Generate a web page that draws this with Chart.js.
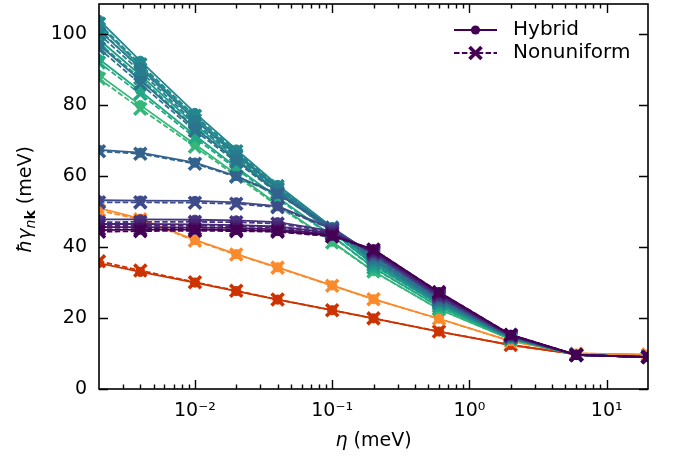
<!DOCTYPE html>
<html>
<head>
<meta charset="utf-8">
<script src="https://cdn.jsdelivr.net/npm/chart.js@4.4.1/dist/chart.umd.min.js"></script>
<style>
  body { margin: 0; background: #fff; }
  canvas { display: block; }
</style>
</head>
<body>
<canvas id="gamma" width="681" height="462"></canvas>
<script>
// broadening eta (meV)
const eta = [0.002, 0.004, 0.01, 0.02, 0.04, 0.1, 0.2, 0.6, 2, 6, 20];

// viridis bands, hybrid grid
const hybA = [44.8, 44.9, 44.9, 44.8, 44.5, 43.2, 39.4, 27.3, 15.3, 9.6, 9.0];
const hybB = [45.6, 45.6, 45.5, 45.4, 45.0, 43.6, 39.0, 27.0, 15.2, 9.6, 9.0];
const hybC = [46.5, 46.5, 46.4, 46.2, 45.8, 44.0, 38.7, 26.6, 15.1, 9.6, 9.0];
const hybD = [47.8, 47.8, 47.7, 47.5, 47.0, 44.5, 38.4, 26.2, 15.0, 9.6, 9.0];
const hybE = [53.2, 53.1, 53.0, 52.6, 51.5, 45.2, 38.0, 25.8, 14.8, 9.6, 9.0];
const hybF = [67.4, 66.6, 63.8, 60.0, 55.0, 45.5, 37.6, 25.5, 14.7, 9.6, 9.0];
const hybG = [97.0, 87.0, 73.5, 64.5, 55.5, 44.8, 37.0, 25.0, 14.6, 9.6, 9.0];
const hybH = [101.0, 90.5, 75.8, 66.0, 56.5, 45.2, 36.6, 24.8, 14.5, 9.6, 9.0];
const hybI = [104.0, 92.5, 77.8, 67.5, 57.5, 45.6, 36.2, 24.5, 14.5, 9.6, 9.0];
const hybJ = [102.5, 91.0, 76.5, 66.5, 56.8, 45.0, 35.6, 24.2, 14.4, 9.6, 9.0];
const hybK = [98.5, 88.5, 74.5, 65.0, 55.8, 44.3, 35.0, 23.8, 14.3, 9.6, 9.0];
const hybL = [93.0, 84.0, 71.5, 62.5, 54.0, 43.2, 34.2, 23.2, 14.2, 9.6, 9.0];
const hybM = [88.5, 80.0, 69.0, 60.5, 52.0, 41.5, 33.2, 22.5, 14.0, 9.6, 9.0];

// same bands, nonuniform grid
const nonA = [44.3, 44.5, 44.6, 44.5, 44.3, 43.0, 39.3, 27.3, 15.3, 9.6, 9.0];
const nonB = [45.0, 45.1, 45.1, 45.0, 44.7, 43.4, 38.9, 27.0, 15.2, 9.6, 9.0];
const nonC = [46.0, 46.0, 46.0, 45.9, 45.5, 43.8, 38.6, 26.6, 15.1, 9.6, 9.0];
const nonD = [47.0, 47.1, 47.1, 47.0, 46.6, 44.3, 38.3, 26.2, 15.0, 9.6, 9.0];
const nonE = [52.6, 52.6, 52.5, 52.2, 51.2, 45.0, 37.9, 25.8, 14.8, 9.6, 9.0];
const nonF = [67.0, 66.3, 63.5, 59.8, 54.8, 45.4, 37.5, 25.5, 14.7, 9.6, 9.0];
const nonG = [96.0, 86.0, 72.8, 64.0, 55.2, 44.7, 36.9, 25.0, 14.6, 9.6, 9.0];
const nonH = [100.0, 89.5, 75.0, 65.5, 56.2, 45.1, 36.5, 24.8, 14.5, 9.6, 9.0];
const nonI = [103.0, 91.5, 77.0, 67.0, 57.2, 45.5, 36.1, 24.5, 14.5, 9.6, 9.0];
const nonJ = [101.5, 90.2, 75.8, 66.0, 56.5, 44.9, 35.5, 24.2, 14.4, 9.6, 9.0];
const nonK = [97.5, 87.6, 73.8, 64.5, 55.5, 44.2, 34.9, 23.8, 14.3, 9.6, 9.0];
const nonL = [92.0, 83.2, 70.8, 62.0, 53.6, 43.0, 34.1, 23.2, 14.2, 9.6, 9.0];
const nonM = [87.5, 79.0, 68.3, 60.0, 51.6, 41.3, 33.1, 22.5, 14.0, 9.6, 9.0];

// the two separate bands
const hybOrange = [51.0, 48.0, 42.0, 38.0, 34.3, 29.2, 25.3, 19.8, 13.5, 10.0, 9.7];
const nonOrange = [50.3, 47.8, 41.8, 37.9, 34.2, 29.1, 25.3, 19.8, 13.5, 10.0, 9.7];
const hybRed = [35.5, 33.0, 30.0, 27.6, 25.2, 22.2, 19.9, 16.2, 12.4, 9.8, 9.6];
const nonRed = [36.0, 33.4, 30.1, 27.7, 25.2, 22.2, 19.9, 16.2, 12.4, 9.8, 9.6];

const hybrid = [hybA, hybB, hybC, hybD, hybE, hybF, hybG, hybH, hybI, hybJ, hybK, hybL, hybM, hybOrange, hybRed];
const nonuniform = [nonA, nonB, nonC, nonD, nonE, nonF, nonG, nonH, nonI, nonJ, nonK, nonL, nonM, nonOrange, nonRed];
const colors = ['#440154', '#471365', '#482475', '#463480', '#3e4a89', '#33638d', '#2c738e', '#297b8e',
                '#24868e', '#21918c', '#1e9c89', '#22a884', '#35b779', '#fb8a2c', '#cc3300'];

const xTicks = [0.01, 0.1, 1, 10];
const xTickLabels = ['10⁻²', '10⁻¹', '10⁰', '10¹'];
const yTicks = [0, 20, 40, 60, 80, 100];

const FONT = "'DejaVu Sans', sans-serif";
const dash = [5.5, 2.4];

function pts(vals) {
  return vals.map((v, i) => ({ x: eta[i], y: v }));
}

let datasets = [];
hybrid.forEach((vals, i) => {
  datasets.push({
    label: 'Hybrid',
    data: pts(vals),
    borderColor: colors[i],
    backgroundColor: colors[i],
    borderWidth: 1.8,
    pointStyle: 'circle',
    pointRadius: 4.6,
    pointHoverRadius: 4.6,
    pointBorderWidth: 1
  });
  datasets.push({
    label: 'Nonuniform',
    data: pts(nonuniform[i]),
    borderColor: colors[i],
    backgroundColor: colors[i],
    borderWidth: 1.8,
    borderDash: dash,
    pointStyle: 'crossRot',
    pointRadius: 8.5,
    pointHoverRadius: 8.5,
    pointBorderWidth: 3.6
  });
});

// frame, inward ticks on all four sides, axis titles and legend
const decor = {
  id: 'decor',
  afterDatasetsDraw(chart) {
    const { ctx, chartArea: a, scales } = chart;
    const x = scales.x, y = scales.y;
    ctx.save();
    ctx.strokeStyle = '#000';
    ctx.lineWidth = 1.4;
    ctx.beginPath();
    xTicks.forEach(v => {
      const px = Math.round(x.getPixelForValue(v)) + 0.5;
      ctx.moveTo(px, a.bottom); ctx.lineTo(px, a.bottom - 9);
      ctx.moveTo(px, a.top); ctx.lineTo(px, a.top + 9);
    });
    for (let d = -3; d <= 1; d++) {
      for (let m = 2; m <= 9; m++) {
        const v = m * Math.pow(10, d);
        if (v <= eta[0] || v >= eta[eta.length - 1]) continue;
        const px = Math.round(x.getPixelForValue(v)) + 0.5;
        ctx.moveTo(px, a.bottom); ctx.lineTo(px, a.bottom - 4.5);
        ctx.moveTo(px, a.top); ctx.lineTo(px, a.top + 4.5);
      }
    }
    yTicks.forEach(v => {
      const py = Math.round(y.getPixelForValue(v)) + 0.5;
      ctx.moveTo(a.left, py); ctx.lineTo(a.left + 9, py);
      ctx.moveTo(a.right, py); ctx.lineTo(a.right - 9, py);
    });
    ctx.stroke();
    ctx.lineWidth = 1.6;
    ctx.strokeRect(a.left, a.top, a.right - a.left, a.bottom - a.top);
    ctx.restore();
  },
  afterDraw(chart) {
    const { ctx, chartArea: a } = chart;
    ctx.save();
    ctx.fillStyle = '#000';
    ctx.textBaseline = 'middle';

    // x title: eta (meV)
    const big = 19;
    ctx.font = `italic ${big}px ${FONT}`;
    const w1 = ctx.measureText('η').width;
    ctx.font = `${big}px ${FONT}`;
    const w2 = ctx.measureText(' (meV)').width;
    let sx = (a.left + a.right) / 2 - (w1 + w2) / 2;
    ctx.textAlign = 'left';
    ctx.font = `italic ${big}px ${FONT}`;
    ctx.fillText('η', sx, 441);
    ctx.font = `${big}px ${FONT}`;
    ctx.fillText(' (meV)', sx + w1, 441);

    // y title: hbar gamma_{n k} (meV), rotated
    const small = 14;
    const parts = [
      { t: 'ħγ', f: `italic ${big}px ${FONT}`, dy: 0 },
      { t: 'n', f: `italic ${small}px ${FONT}`, dy: 5 },
      { t: 'k', f: `bold ${small}px ${FONT}`, dy: 5 },
      { t: ' (meV)', f: `${big}px ${FONT}`, dy: 0 }
    ];
    let total = 0;
    parts.forEach(p => { ctx.font = p.f; p.w = ctx.measureText(p.t).width; total += p.w; });
    ctx.translate(26, (a.top + a.bottom) / 2 + 3);
    ctx.rotate(-Math.PI / 2);
    let cx = -total / 2;
    parts.forEach(p => {
      ctx.font = p.f;
      ctx.fillText(p.t, cx, p.dy);
      cx += p.w;
    });
    ctx.restore();

    // legend
    ctx.save();
    const lc = colors[0];
    const entries = [
      { label: 'Hybrid', y: 30, dashed: false },
      { label: 'Nonuniform', y: 53, dashed: true }
    ];
    entries.forEach(e => {
      ctx.strokeStyle = lc;
      ctx.fillStyle = lc;
      ctx.lineWidth = 1.8;
      ctx.setLineDash(e.dashed ? dash : []);
      ctx.beginPath();
      ctx.moveTo(454, e.y); ctx.lineTo(497, e.y);
      ctx.stroke();
      ctx.setLineDash([]);
      if (e.dashed) {
        ctx.lineWidth = 3.6;
        const r = 6;
        ctx.beginPath();
        ctx.moveTo(475.5 - r, e.y - r); ctx.lineTo(475.5 + r, e.y + r);
        ctx.moveTo(475.5 - r, e.y + r); ctx.lineTo(475.5 + r, e.y - r);
        ctx.stroke();
      } else {
        ctx.beginPath();
        ctx.arc(475.5, e.y, 4.6, 0, Math.PI * 2);
        ctx.fill();
      }
      ctx.fillStyle = '#000';
      ctx.font = `20px ${FONT}`;
      ctx.textAlign = 'left';
      ctx.textBaseline = 'middle';
      ctx.fillText(e.label, 513, e.y);
    });
    ctx.restore();
  }
};

new Chart(document.getElementById('gamma'), {
  type: 'line',
  data: { datasets: datasets },
  options: {
    responsive: false,
    animation: false,
    devicePixelRatio: 1,
    layout: { autoPadding: false, padding: { top: 4, right: 33, left: 0, bottom: 0 } },
    plugins: { legend: { display: false }, tooltip: { enabled: false } },
    elements: { line: { tension: 0, fill: false } },
    scales: {
      x: {
        type: 'logarithmic',
        min: eta[0],
        max: eta[eta.length - 1],
        grid: { display: false, drawTicks: false },
        border: { display: false },
        afterBuildTicks: s => { s.ticks = xTicks.map(v => ({ value: v })); },
        afterFit: s => { s.height = 73; s.paddingLeft = 0; s.paddingRight = 0; },
        ticks: {
          autoSkip: false,
          maxRotation: 0,
          padding: 11,
          color: '#000',
          font: { family: FONT, size: 19 },
          callback: v => xTickLabels[xTicks.indexOf(v)]
        }
      },
      y: {
        min: 0,
        max: 108.5,
        grid: { display: false, drawTicks: false },
        border: { display: false },
        afterBuildTicks: s => { s.ticks = yTicks.map(v => ({ value: v })); },
        afterFit: s => { s.width = 99; s.paddingTop = 0; s.paddingBottom = 0; },
        ticks: {
          padding: 12,
          color: '#000',
          font: { family: FONT, size: 19 }
        }
      }
    }
  },
  plugins: [decor]
});
</script>
</body>
</html>
